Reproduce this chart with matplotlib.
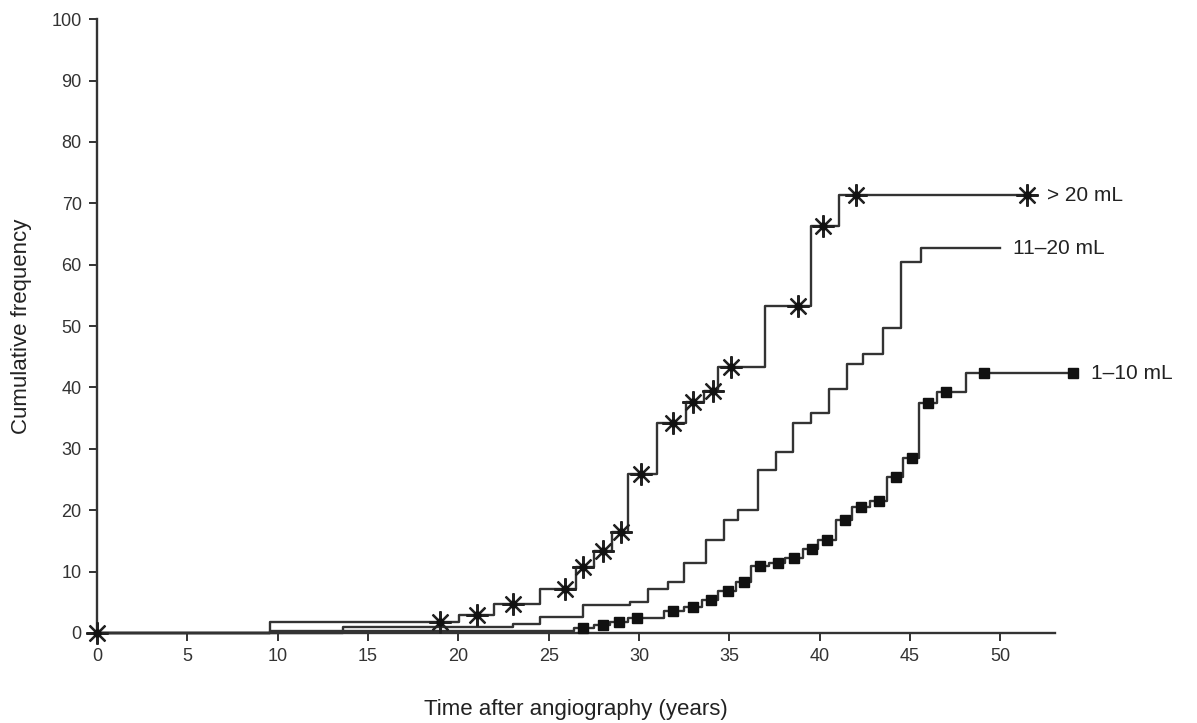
import numpy as np
import matplotlib
matplotlib.use("Agg")
import matplotlib.pyplot as plt

plt.rcParams['font.family'] = ['Liberation Sans', 'DejaVu Sans']

# > 20 mL : step times (years) and cumulative frequency after each step
t_gt20 = [0, 9.6, 20.05, 22.0, 24.5, 26.5, 27.5, 28.5, 29.4, 31.0, 32.6, 33.6, 34.4, 37.0, 39.5, 41.05]
y_gt20 = [0, 1.8, 2.9, 4.7, 7.2, 10.7, 13.4, 16.5, 25.9, 34.2, 37.6, 39.4, 43.3, 53.3, 66.3, 71.3]
end_gt20 = 51.5
mark_gt20 = [0, 19.0, 21.05, 23.0, 25.9, 26.9, 28.0, 29.0, 30.1, 31.9, 33.0, 34.1, 35.1, 38.8, 40.2, 42.0, 51.5]

# 11-20 mL
t_mid = [0, 13.6, 23.0, 24.5, 26.9, 29.5, 30.5, 31.6, 32.5, 33.7, 34.7, 35.5, 36.6, 37.6, 38.5,
         39.5, 40.5, 41.5, 42.4, 43.5, 44.5, 45.6]
y_mid = [0, 0.9, 1.4, 2.6, 4.6, 5.0, 7.2, 8.3, 11.4, 15.2, 18.4, 20.0, 26.6, 29.5, 34.2,
         35.8, 39.7, 43.8, 45.4, 49.7, 60.4, 62.7]
end_mid = 50.0

# 1-10 mL
t_low = [0, 9.6, 26.4, 27.5, 28.4, 29.4, 31.4, 32.5, 33.5, 34.4, 35.35, 36.2, 37.2, 38.1, 39.1,
         39.9, 40.9, 41.8, 42.8, 43.7, 44.6, 45.5, 46.5, 48.1]
y_low = [0, 0.3, 0.8, 1.3, 1.8, 2.4, 3.6, 4.2, 5.4, 6.8, 8.3, 10.9, 11.4, 12.2, 13.7,
         15.1, 18.4, 20.5, 21.5, 25.4, 28.5, 37.5, 39.3, 42.3]
end_low = 54.0
mark_low = [26.9, 28.0, 28.9, 29.9, 31.9, 33.0, 34.0, 34.9, 35.8, 36.7, 37.7, 38.6, 39.6, 40.4,
            41.4, 42.3, 43.3, 44.2, 45.1, 46.0, 47.0, 49.1, 54.0]

labels = ['> 20 mL', '11\u201320 mL', '1\u201310 mL']
label_x = [52.6, 50.7, 55.0]

LINE = '#333333'


def step_xy(t, y, end):
    """Return x, y arrays for a post-step line ending at `end`."""
    return np.append(t, end), np.append(y, y[-1])


def level_at(t, y, x):
    idx = np.searchsorted(t, x, side='right') - 1
    return np.asarray(y)[idx]


fig = plt.figure(figsize=(11.97, 7.23), dpi=100)
ax = fig.add_axes([0.081, 0.1245, 0.80, 0.849])

for t, y, end in [(t_gt20, y_gt20, end_gt20), (t_mid, y_mid, end_mid), (t_low, y_low, end_low)]:
    xs, ys = step_xy(t, y, end)
    ax.step(xs, ys, where='post', color=LINE, linewidth=1.7, clip_on=False, zorder=3)

# censoring marks
mx = np.array(mark_gt20)
my = level_at(t_gt20, y_gt20, mx)
ax.plot(mx, my, linestyle='none', marker=(8, 2, 0), markersize=16, markeredgewidth=1.6,
        color='#222222', clip_on=False, zorder=4)
ax.plot(mx, my, linestyle='none', marker='o', markersize=5, color='#111111',
        clip_on=False, zorder=5)

mx = np.array(mark_low)
my = level_at(t_low, y_low, mx)
ax.plot(mx, my, linestyle='none', marker='s', markersize=7.5, color='#111111',
        clip_on=False, zorder=4)

# series labels
ends = [y_gt20[-1], y_mid[-1], y_low[-1]]
for lab, lx, ly in zip(labels, label_x, ends):
    ax.text(lx, ly, lab, fontsize=15, color='#222222', va='center', ha='left', clip_on=False)

ax.set_xlim(0, 53)
ax.set_ylim(0, 100)
ax.set_xticks(range(0, 51, 5))
ax.set_yticks(range(0, 101, 10))

ax.spines['top'].set_visible(False)
ax.spines['right'].set_visible(False)
for s in ['left', 'bottom']:
    ax.spines[s].set_color(LINE)
    ax.spines[s].set_linewidth(1.7)
ax.tick_params(direction='out', length=6, width=1.4, color=LINE,
               labelsize=13, labelcolor='#333333', pad=5)

ax.set_xlabel('Time after angiography (years)', fontsize=16, color='#222222', labelpad=24)
ax.set_ylabel('Cumulative frequency', fontsize=16, color='#222222', labelpad=14)

fig.savefig('out.png', dpi=100)
